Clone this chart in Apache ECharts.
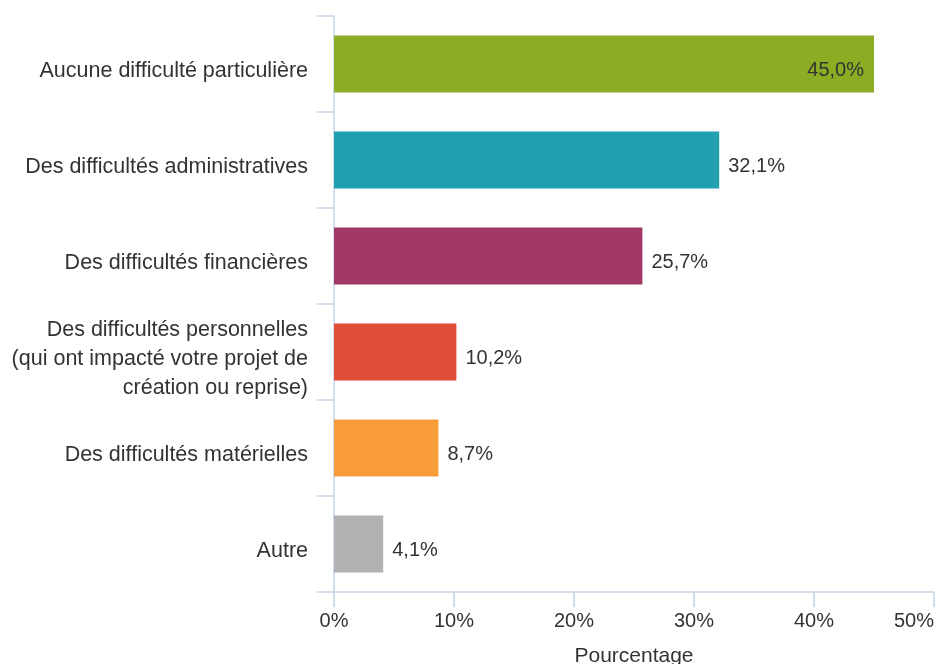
<!DOCTYPE html>
<html>
<head>
<meta charset="utf-8">
<title>Difficultés</title>
<script src="https://cdn.jsdelivr.net/npm/echarts@6/dist/echarts.min.js"></script>
<style>
  html, body { margin: 0; padding: 0; background: #fff; }
  #main { width: 937px; height: 664px; }
</style>
</head>
<body>
<div id="main"></div>
<script type="text/javascript">
    var categories = [
        'Aucune difficulté particulière',
        'Des difficultés administratives',
        'Des difficultés financières',
        'Des difficultés personnelles\n(qui ont impacté votre projet de\ncréation ou reprise)',
        'Des difficultés matérielles',
        'Autre'
    ];
    var values = [45.0, 32.1, 25.7, 10.2, 8.7, 4.1];
    var colors = ['#8aad23', '#21a0b0', '#a33866', '#e04e38', '#f79b3b', '#b2b2b2'];
    var xTicks = [0, 10, 20, 30, 40, 50];

    var axisColor = '#c5d3e8';
    var font = 'Liberation Sans, Arial, sans-serif';

    var myChart = echarts.init(document.getElementById('main'));

    // la première barre a son étiquette à l'intérieur
    var data = values.map(function (v, i) {
        var d = { value: v, itemStyle: { color: colors[i] } };
        if (i === 0) {
            d.label = { position: 'insideRight', distance: 10 };
        }
        return d;
    });

    myChart.setOption({
        animation: false,
        textStyle: { fontFamily: font },
        grid: { left: 334, right: 3, top: 16, bottom: 72, outerBoundsMode: 'none', containLabel: false },
        xAxis: {
            type: 'value',
            min: xTicks[0],
            max: xTicks[xTicks.length - 1],
            interval: 10,
            name: 'Pourcentage',
            nameLocation: 'middle',
            nameGap: 54,
            nameTextStyle: { fontSize: 21, color: '#333', fontFamily: font },
            axisLine: { show: true, lineStyle: { color: axisColor, width: 1.5 } },
            axisTick: { show: true, length: 15, lineStyle: { color: axisColor, width: 1.5 } },
            axisLabel: {
                fontSize: 20, color: '#333', margin: 19,
                alignMaxLabel: 'right',
                formatter: '{value}%'
            },
            splitLine: { show: false }
        },
        yAxis: {
            type: 'category',
            inverse: true,
            data: categories,
            axisLine: { show: true, lineStyle: { color: axisColor, width: 1.5 } },
            axisTick: { show: true, length: 17, alignWithLabel: false, lineStyle: { color: axisColor, width: 1.5 } },
            axisLabel: {
                fontSize: 21.5, color: '#333', margin: 26,
                lineHeight: 29, align: 'right',
                // une petite ligne vide au-dessus décale le texte vers le bas
                formatter: function (v) {
                    return '{s| }\n' + v.split('\n').map(function (l) {
                        return '{t|' + l + '}';
                    }).join('\n');
                },
                rich: {
                    s: { fontSize: 1, lineHeight: 14 },
                    t: { fontSize: 21.5, lineHeight: 29, color: '#333' }
                }
            }
        },
        series: [{
            type: 'bar',
            data: data,
            barWidth: 57,
            label: {
                show: true,
                position: 'right',
                distance: 9,
                offset: [0, 6],
                fontSize: 20,
                color: '#333',
                formatter: function (p) {
                    return p.value.toFixed(1).replace('.', ',') + '%';
                }
            }
        }]
    });
</script>
</body>
</html>
